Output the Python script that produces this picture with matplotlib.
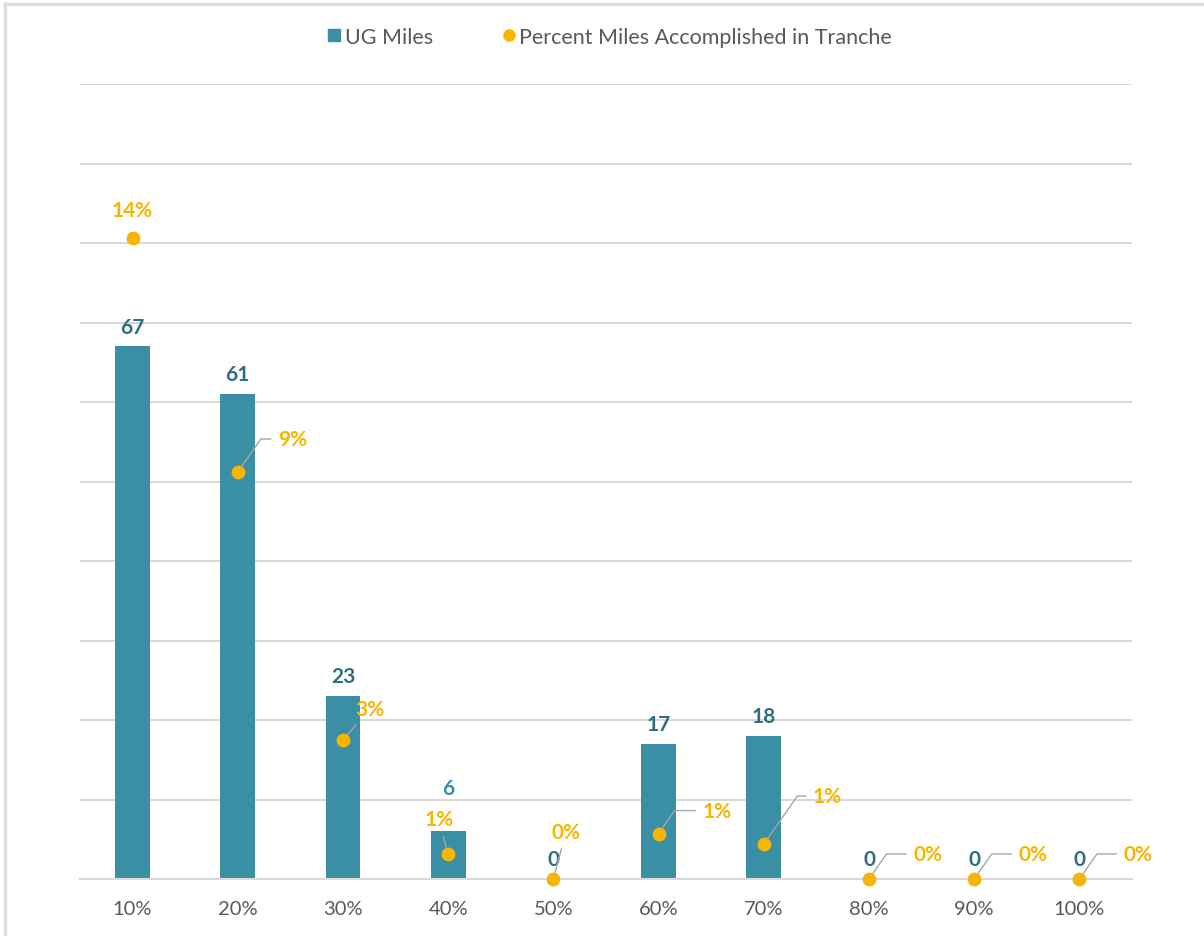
import matplotlib
matplotlib.use("Agg")
import matplotlib.pyplot as plt
from matplotlib.lines import Line2D

plt.rcParams['font.family'] = ['Lato', 'DejaVu Sans']

tranches = ['10%', '20%', '30%', '40%', '50%', '60%', '70%', '80%', '90%', '100%']
ug_miles = [67, 61, 23, 6, 0, 17, 18, 0, 0, 0]
pct_miles = [0.141, 0.0896, 0.0306, 0.0054, 0.0, 0.0100, 0.0077, 0.0, 0.0, 0.0]

bar_col = '#3a8fa5'
bar_lab = '#2f6e80'
gold = '#f7b500'
grey = '#595959'
grid = '#d9d9d9'

fig = plt.figure(figsize=(12.04, 9.37), dpi=100)
ax = fig.add_axes([80 / 1204, 1 - 880 / 937, 1052 / 1204, 795 / 937])
ax2 = ax.twinx()

x = list(range(len(tranches)))
bars = ax.bar(x, ug_miles, width=0.33, color=bar_col, zorder=2, label='UG Miles')
ax.set_xlim(-0.5, len(tranches) - 0.5)
ax.set_ylim(0, 100)
ax.set_yticks(range(0, 101, 10))
ax.yaxis.grid(True, color=grid, lw=1.5, zorder=0)
ax.set_axisbelow(True)
ax.tick_params(axis='y', left=False, labelleft=False)
ax.tick_params(axis='x', length=0, pad=15, labelsize=14.5, labelcolor=grey)
ax.set_xticks(x)
ax.set_xticklabels(tranches)
for s in ['top', 'right', 'left']:
    ax.spines[s].set_visible(False)
ax.spines['bottom'].set_color(grid)
ax.spines['bottom'].set_linewidth(1.5)

# bar value labels; the 40% one sits higher to clear the percent label
bar_dy = [7, 7, 7, 24, 7, 7, 7, 7, 7, 7]
for b, v, dy in zip(bars, ug_miles, bar_dy):
    ax.annotate(str(v), (b.get_x() + b.get_width() / 2, v), xytext=(0, dy),
                textcoords='offset points', ha='center', va='bottom',
                fontsize=15, fontweight='bold', color=bar_col if dy > 10 else bar_lab)

ax2.scatter(x, pct_miles, s=80, color=gold, zorder=3, clip_on=False,
            label='Percent Miles Accomplished in Tranche')
ax2.set_ylim(0, 0.175)
ax2.axis('off')

# label offsets in pixels (text left edge relative to point) and leader style
k = 0.72
offsets = [(-16, 28), (40, 33), (12, 31), (-24, 35), (-2, 47),
           (44, 23), (49, 48), (44, 25), (44, 25), (44, 25)]
for i, (xi, p) in enumerate(zip(x, pct_miles)):
    dx, dy = offsets[i]
    txt = f'{p * 100:.0f}%'
    if i == 0:
        ax2.annotate(txt, (xi, p), xytext=(0, dy * k), textcoords='offset points',
                     ha='center', va='center', fontsize=15, fontweight='bold', color=gold)
        continue
    if i in (2, 3, 4):
        cs = 'arc3'
    else:
        cs = 'angle,angleA=180,angleB=55,rad=0'
    ax2.annotate(txt, (xi, p), xytext=(dx * k, dy * k), textcoords='offset points',
                 ha='left', va='center', fontsize=15, fontweight='bold', color=gold,
                 arrowprops=dict(arrowstyle='-', color='#a6a6a6', lw=1,
                                 connectionstyle=cs, shrinkA=3, shrinkB=5))

h1, l1 = ax.get_legend_handles_labels()
h2, l2 = ax2.get_legend_handles_labels()
h1 = [Line2D([], [], marker='s', ls='', color=bar_col, markersize=8)]
h2 = [Line2D([], [], marker='o', ls='', color=gold, markersize=8)]
leg = fig.legend(h1 + h2, l1 + l2, loc='center', bbox_to_anchor=(610 / 1204, 1 - 38 / 937),
                 ncol=2, frameon=False, fontsize=15.5, handlelength=0.6,
                 handletextpad=0.2, columnspacing=3.2, labelcolor=grey)

# light frame on top and left edges only (image is cropped on the others)
fig.add_artist(Line2D([5 / 1204, 1], [1 - 5 / 937, 1 - 5 / 937], transform=fig.transFigure,
                      color='#dcdcdc', lw=2.5))
fig.add_artist(Line2D([5 / 1204, 5 / 1204], [0, 1 - 5 / 937], transform=fig.transFigure,
                      color='#dcdcdc', lw=2.5))

fig.savefig('out.png', dpi=100)
